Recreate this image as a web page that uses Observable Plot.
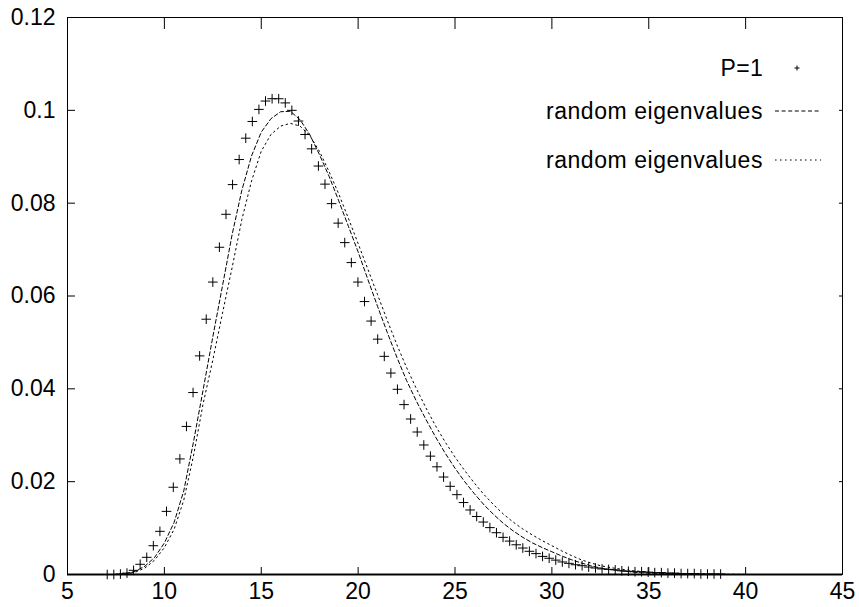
<!DOCTYPE html>
<html><head><meta charset="utf-8">
<script src="https://cdn.jsdelivr.net/npm/d3@7"></script>
<script src="https://cdn.jsdelivr.net/npm/@observablehq/plot@0.6"></script>
<style>
html,body{margin:0;padding:0;background:#fff;}
#chart{width:859px;height:607px;overflow:hidden;}
</style></head><body><div id="chart"></div>
<script>
// ---- data ----
const p1X = [7.05,7.39,7.73,8.07,8.41,8.75,9.09,9.43,9.77,10.11,
  10.46,10.80,11.14,11.48,11.82,12.16,12.50,12.84,13.18,13.52,
  13.86,14.20,14.54,14.88,15.22,15.56,15.90,16.24,16.58,16.92,
  17.26,17.60,17.95,18.29,18.63,18.97,19.31,19.65,19.99,20.33,
  20.67,21.01,21.35,21.69,22.03,22.37,22.71,23.05,23.39,23.73,
  24.07,24.41,24.75,25.10,25.44,25.78,26.12,26.46,26.80,27.14,
  27.48,27.82,28.16,28.50,28.84,29.18,29.52,29.86,
  30.20,30.54,30.88,31.22,31.56,31.90,32.25,32.59,32.93,33.27,
  33.61,33.95,34.29,34.63,34.97,35.31,35.65,35.99,36.33,36.67,
  37.01,37.35,37.69,38.03,38.37,38.71];
const p1Y = [0.0000,0.0000,0.0001,0.0003,0.0009,0.0022,0.0037,0.0062,0.0093,0.0136,
  0.0188,0.0249,0.0319,0.0392,0.0471,0.0550,0.0630,0.0705,0.0776,0.0840,
  0.0894,0.0940,0.0976,0.1002,0.1020,0.1025,0.1025,0.1016,0.1000,0.0977,
  0.0948,0.0917,0.0880,0.0841,0.0799,0.0757,0.0715,0.0672,0.0630,0.0588,
  0.0546,0.0507,0.0470,0.0434,0.0399,0.0366,0.0335,0.0307,0.0279,0.0255,
  0.0232,0.0210,0.0190,0.0172,0.0155,0.0139,0.0125,0.0113,0.0101,0.0090,
  0.0080,0.0072,0.0064,0.0057,0.0050,0.0045,0.0039,0.0035,
  0.0031,0.0027,0.0024,0.0021,0.0019,0.0016,0.0014,0.0012,0.0011,0.0010,
  0.0008,0.0007,0.0006,0.0006,0.0005,0.0004,0.0004,0.0003,0.0003,0.0002,
  0.0002,0.0002,0.0001,0.0001,0.0001,0.0001];

const curveX = [7.0,7.5,8.0,8.5,9.0,9.5,10.0,10.5,11.0,11.5,
  12.0,12.5,13.0,13.5,14.0,14.5,15.0,15.5,16.0,16.5,
  17.0,17.5,18.0,18.5,19.0,19.5,20.0,20.5,21.0,21.5,
  22.0,22.5,23.0,23.5,24.0,24.5,25.0,25.5,26.0,26.5,
  27.0,27.5,28.0,28.5,29.0,29.5,30.0,30.5,31.0,31.5,
  32.0,32.5,33.0,33.5,34.0,34.5,35.0,36.0,37.0,38.0,39.0,40.0];
const randAY = [0.0000,0.0000,0.0002,0.0007,0.0018,0.0037,0.0068,0.0112,0.0180,0.0285,
  0.0398,0.0512,0.0622,0.0733,0.0828,0.0902,0.0953,0.0982,0.0997,0.0998,
  0.0980,0.0948,0.0905,0.0858,0.0805,0.0750,0.0695,0.0636,0.0578,0.0522,
  0.0468,0.0418,0.0374,0.0334,0.0296,0.0261,0.0229,0.0200,0.0174,0.0150,
  0.0129,0.0110,0.0094,0.0080,0.0068,0.0058,0.0049,0.0040,0.0032,0.0025,
  0.0019,0.0014,0.0011,0.0008,0.0006,0.0004,0.0003,0.0002,0.0001,0.00005,0.00002,0.00001];
const randBY = [0.0000,0.0000,0.0001,0.0005,0.0014,0.0031,0.0058,0.0097,0.0160,0.0255,
  0.0368,0.0462,0.0563,0.0662,0.0765,0.0848,0.0912,0.0948,0.0966,0.0972,
  0.0966,0.0946,0.0912,0.0868,0.0820,0.0767,0.0713,0.0658,0.0603,0.0548,
  0.0495,0.0446,0.0401,0.0359,0.0320,0.0285,0.0253,0.0224,0.0197,0.0172,
  0.0150,0.0130,0.0113,0.0098,0.0085,0.0073,0.0062,0.0051,0.0041,0.0032,
  0.0025,0.0019,0.0015,0.0012,0.0009,0.0007,0.0005,0.0003,0.0002,0.0001,0.00005,0.00002];

const xTicks = [5,10,15,20,25,30,35,40,45];
const xTickLabels = ["5","10","15","20","25","30","35","40","45"];
const yTicks = [0,0.02,0.04,0.06,0.08,0.1,0.12];
const yTickLabels = ["0","0.02","0.04","0.06","0.08","0.1","0.12"];
const legendLabels = ["P=1","random eigenvalues","random eigenvalues"];

// ---- tables ----
const pts = p1X.map((x,i)=>({x, y:p1Y[i]}));
const lineA = curveX.map((x,i)=>({x, y:randAY[i]}));
const lineB = curveX.map((x,i)=>({x, y:randBY[i]}));

const FONT = '"Liberation Sans", Arial, Helvetica, sans-serif';
const DASH_A = "4,2.6";
const DASH_B = "1.6,3.4";

function legend(index, scales, values, dims) {
  const right = dims.width - dims.marginRight;
  const g = d3.create("svg:g").attr("font-family", FONT).attr("font-size", 23).attr("fill","black");
  const rowsY = [51, 94, 143];
  legendLabels.forEach((label, i) => {
    const y = dims.marginTop + rowsY[i];
    g.append("text").attr("x", right - 79).attr("y", y).attr("dy","0.35em")
      .attr("letter-spacing", i === 0 ? "0.3px" : "0.55px")
      .attr("text-anchor","end").text(label);
    if (i === 0) {
      g.append("path").attr("d", `M${right-47.5},${y}h5M${right-45},${y-2.5}v5`)
        .attr("stroke","black").attr("stroke-width",1).attr("fill","none");
    } else {
      g.append("line").attr("x1", right-67).attr("x2", right-21).attr("y1", y).attr("y2", y)
        .attr("stroke","black").attr("stroke-width",1)
        .attr("stroke-dasharray", i === 1 ? DASH_A : DASH_B);
    }
  });
  return g.node();
}

const chart = Plot.plot({
  width: 859,
  height: 607,
  marginLeft: 67,
  marginRight: 17,
  marginTop: 17,
  marginBottom: 33,
  style: {fontFamily: FONT, fontSize: "23px", background: "white", color: "black", overflow: "visible"},
  x: {domain: [5, 45], label: null},
  y: {domain: [0, 0.12], label: null},
  marks: [
    Plot.ruleY([0], {stroke: "#5a5a5a", strokeWidth: 2.5}),
    Plot.frame({stroke: "black", strokeWidth: 1}),
    // inward ticks on all four sides
    Plot.axisX(xTicks, {anchor: "bottom", tickSize: -7, tickFormat: () => "", label: null}),
    Plot.axisX(xTicks, {anchor: "top", tickSize: -11, tickFormat: () => "", label: null}),
    Plot.axisY(yTicks, {anchor: "left", tickSize: -8, tickFormat: () => "", label: null}),
    Plot.axisY(yTicks, {anchor: "right", tickSize: -4, tickFormat: () => "", label: null}),
    // tick labels
    Plot.axisX(xTicks, {anchor: "bottom", tickSize: 0, tickPadding: 8,
      tickFormat: d => xTickLabels[xTicks.indexOf(d)], label: null, fontSize: 23}),
    Plot.axisY(yTicks, {anchor: "left", tickSize: 0, tickPadding: 12,
      tickFormat: d => yTickLabels[yTicks.indexOf(d)], label: null, fontSize: 23}),
    Plot.line(lineB, {x: "x", y: "y", stroke: "black", strokeWidth: 1, strokeDasharray: DASH_B}),
    Plot.line(lineA, {x: "x", y: "y", stroke: "black", strokeWidth: 1, strokeDasharray: DASH_A}),
    Plot.dot(pts, {x: "x", y: "y", symbol: "plus", r: 3.2, stroke: "black", strokeWidth: 1}),
    legend
  ]
});
document.getElementById("chart").appendChild(chart);
</script>
</body></html>
